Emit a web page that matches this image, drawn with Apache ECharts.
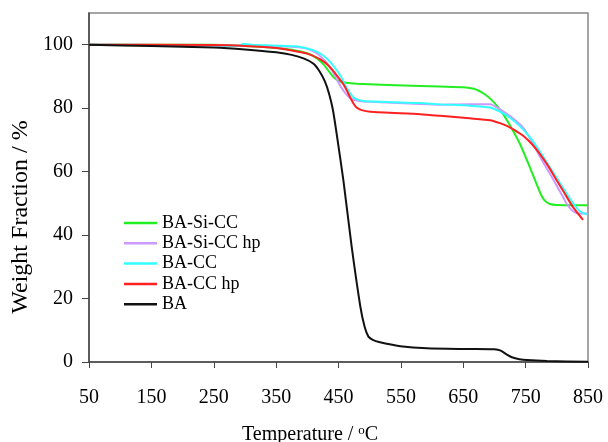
<!DOCTYPE html>
<html>
<head>
<meta charset="utf-8">
<script src="https://cdn.jsdelivr.net/npm/echarts@6/dist/echarts.min.js"></script>
<style>
  html, body { margin: 0; padding: 0; background: #fff; }
  #container { width: 608px; height: 442px; }
</style>
</head>
<body>
<div id="container"></div>
<script>
// tick labels
var xTicks = [50, 150, 250, 350, 450, 550, 650, 750, 850];
var yTicks = [0, 20, 40, 60, 80, 100];

// series names
var names = ['BA-Si-CC', 'BA-Si-CC hp', 'BA-CC', 'BA-CC hp', 'BA'];

// BA-Si-CC
var siccT = [50, 250, 300, 350, 375, 400, 415, 426, 435, 443, 452, 462, 479, 581, 613, 650, 665, 675, 685, 695, 705, 715, 728, 741, 757, 773, 780, 789, 800, 850];
var siccW = [100, 100, 99.6, 99.0, 98.4, 97.3, 95.8, 93.8, 91.5, 89.6, 88.5, 88.0, 87.7, 87.0, 86.8, 86.6, 86.2, 85.5, 84.3, 82.7, 80.5, 77.8, 73.5, 68.7, 61.3, 53.5, 51, 49.8, 49.5, 49.4];

// BA-Si-CC hp
var siccHpT = [50, 250, 350, 380, 400, 415, 428, 437, 445, 453, 462, 470, 480, 490, 581, 613, 660, 693, 710, 725, 746, 760, 775, 790, 800, 810, 816, 826, 835, 850];
var siccHpW = [100, 99.8, 99.5, 99.3, 98.7, 97.3, 95, 92.8, 90, 87, 84.5, 83, 82.4, 82.1, 81.3, 81.1, 81.2, 81.2, 79.5, 77.5, 73.9, 69.5, 64, 59, 55.5, 52, 49.8, 47.5, 46.8, 46.8];

// BA-CC
var ccT = [50, 250, 290, 298, 310, 350, 380, 400, 415, 428, 437, 445, 453, 463, 470, 477, 490, 581, 613, 660, 693, 710, 725, 740, 757, 773, 789, 803, 816, 827, 837, 848];
var ccW = [100, 99.8, 99.6, 100.3, 100, 99.7, 99.5, 98.8, 97.8, 96.2, 94.5, 92.5, 90.3, 86.5, 84.3, 83, 82.3, 81.6, 81.2, 80.8, 80.2, 78.8, 77, 74.5, 70.8, 66.3, 61.3, 57, 53, 49.8, 47.5, 46.5];

// BA-CC hp
var ccHpT = [50, 250, 300, 350, 375, 400, 421, 432, 442, 450, 458, 464, 469, 474, 479, 487, 501, 581, 613, 660, 693, 710, 720, 733, 746, 760, 773, 787, 800, 813, 826, 842];
var ccHpW = [100, 99.9, 99.6, 99.0, 98.2, 97.2, 95.4, 93.8, 91.7, 89.6, 87.5, 85.3, 83.3, 81.5, 80.2, 79.4, 78.9, 78.1, 77.6, 76.8, 76.2, 75.2, 74.4, 73, 71.3, 68.7, 65.5, 61.5, 57.2, 53, 48.8, 44.8];

// BA
var baT = [50, 150, 250, 300, 350, 375, 395, 410, 420, 428, 435, 441, 447, 458, 471, 485, 492, 498, 505, 515, 549, 592, 656, 700, 710, 720, 728, 740, 752, 784, 850];
var baW = [100, 99.6, 99.1, 98.5, 97.6, 96.8, 95.6, 94, 91.5, 88.5, 84.5, 79.5, 72, 57, 36.5, 17.5, 11, 8, 7, 6.3, 5.0, 4.3, 4.1, 4.0, 3.6, 2.3, 1.5, 0.9, 0.6, 0.3, 0.1];

var colors = ['#22ee22', '#cc99ff', '#33ffff', '#ff2020', '#111111'];
var serif = '"Liberation Serif", "Times New Roman", serif';

function zip(t, w) {
    var res = [];
    for (var i = 0; i < t.length; i++) res.push([t[i], w[i]]);
    return res;
}

var allData = [[siccT, siccW], [siccHpT, siccHpW], [ccT, ccW], [ccHpT, ccHpW], [baT, baW]];
var series = allData.map(function (d, i) {
    return {
        name: names[i],
        type: 'line',
        symbol: 'none',
        smooth: 0.2,
        data: zip(d[0], d[1]),
        lineStyle: { color: colors[i], width: 2 },
        itemStyle: { color: colors[i] }
    };
});

var myChart = echarts.init(document.getElementById('container'));
var option = {
    backgroundColor: '#fff',
    animation: false,
    grid: {
        left: 89, right: 20, top: 13, bottom: 80,
        show: true, borderColor: '#888', borderWidth: 1.5
    },
    legend: {
        orient: 'vertical',
        left: 119, top: 209,
        icon: 'rect',
        itemWidth: 33, itemHeight: 2.5, itemGap: 2.3,
        textStyle: { fontFamily: serif, fontSize: 18, color: '#000', padding: [0, 0, 0, 0] },
        data: names
    },
    xAxis: {
        type: 'value',
        min: 50, max: 850,
        axisLine: { lineStyle: { color: '#444', width: 1.5 } },
        axisTick: { show: true, length: 6, customValues: xTicks, lineStyle: { color: '#444' } },
        axisLabel: { customValues: xTicks, margin: 26, fontFamily: serif, fontSize: 20, color: '#000' },
        splitLine: { show: false }
    },
    yAxis: {
        type: 'value',
        min: 0, max: 110,
        axisLine: { show: true, lineStyle: { color: '#444', width: 1.5 } },
        axisTick: { show: true, length: 7, customValues: yTicks, lineStyle: { color: '#444' } },
        axisLabel: { customValues: yTicks, margin: 16, fontFamily: serif, fontSize: 20, color: '#000' },
        splitLine: { show: false }
    },
    graphic: [
        {
            type: 'text', left: 242, top: 424,
            style: {
                text: '{a|Temperature / }{s|o}{a|C}',
                rich: {
                    a: { fontFamily: serif, fontSize: 20, fill: '#000' },
                    s: { fontFamily: serif, fontSize: 13, fill: '#000', verticalAlign: 'top', padding: [0, 0, 9, 0] }
                }
            }
        },
        {
            type: 'text', x: 21, y: 217, rotation: Math.PI / 2,
            style: {
                text: 'Weight Fraction / %',
                fontFamily: serif, fontSize: 24, fill: '#000',
                align: 'center', verticalAlign: 'middle'
            }
        }
    ],
    series: series
};
myChart.setOption(option);
</script>
</body>
</html>
